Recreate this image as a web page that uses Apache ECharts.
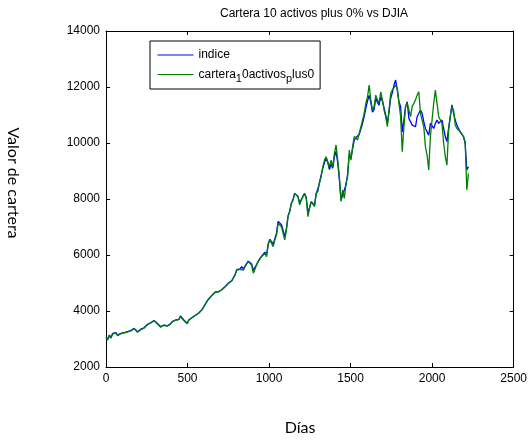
<!DOCTYPE html>
<html>
<head>
<meta charset="utf-8">
<script src="https://cdn.jsdelivr.net/npm/echarts@6/dist/echarts.min.js"></script>
<style>
html, body { margin: 0; padding: 0; background: #fff; }
#chart { width: 530px; height: 441px; }
</style>
</head>
<body>
<div id="chart"></div>
<script>
// Separación (en días) entre muestras consecutivas de cada serie
const pasoDias = 10.15;

// Índice DJIA (muestreado)
const indice = [
  3080, 2990, 3140, 3060, 3200, 3170, 3230, 3140, 3180, 3200,
  3260, 3230, 3300, 3260, 3320, 3300, 3360, 3380, 3320, 3260,
  3300, 3350, 3320, 3400, 3470, 3520, 3560, 3580, 3620, 3660,
  3610, 3560, 3540, 3440, 3420, 3500, 3540, 3470, 3500, 3540,
  3620, 3660, 3680, 3740, 3700, 3820, 3770, 3680, 3620, 3560,
  3680, 3740, 3770, 3800, 3850, 3880, 3930, 3960, 4050, 4150,
  4250, 4350, 4430, 4500, 4560, 4620, 4680, 4720, 4690, 4740,
  4770, 4830, 4880, 4920, 5000, 5060,
  5080, 5060, 5300, 5480, 5540, 5500, 5580, 5500, 5600, 5700,
  5780, 5750, 5680, 5450, 5480, 5660, 5780, 5720, 5960, 6020,
  6100, 6000, 6400, 6560, 6480, 6380, 6580, 6780, 7200, 7250,
  7080, 6880, 6650, 6950, 7400, 7560, 7850, 7980, 8200, 8250,
  8100, 7850, 7980, 8100, 8200, 8050, 7500, 7700, 7900, 7880,
  7780, 8200, 8280,
  8600, 8850, 9100, 9300, 9450, 9300, 9050, 9250, 9100, 9500,
  9700, 9300, 8700, 7950, 8150, 8100, 8500, 8900, 9600, 9450,
  9800, 10100, 10200, 10150, 10300, 10500, 10700, 10950, 11250, 11500,
  11700, 11450, 11100, 11200, 11600, 11450, 11350, 11650, 11500, 11250,
  11000, 10700, 11100, 11600, 11800,
  12070, 12250, 11890, 11475, 11297, 10400, 10820, 11297, 11475, 10880,
  10820, 10640, 10700, 10580, 10940, 11000, 11180, 11060, 10760, 10520,
  10580, 10280, 10700, 10640, 10520, 10700, 10820, 10700, 10640, 10820,
  10760, 10230, 10050, 10520, 10940, 11360, 11060, 10820, 10640, 10520,
  10400, 10340, 10230, 9990, 9036, 9150
];

// Cartera de 10 activos (muestreada)
const cartera = [
  3040, 2960, 3110, 3030, 3170, 3140, 3210, 3120, 3170, 3190,
  3250, 3220, 3290, 3250, 3310, 3290, 3350, 3370, 3300, 3240,
  3290, 3330, 3310, 3390, 3460, 3510, 3550, 3570, 3610, 3650,
  3600, 3540, 3520, 3420, 3400, 3490, 3530, 3460, 3490, 3530,
  3610, 3650, 3670, 3730, 3690, 3800, 3750, 3660, 3600, 3540,
  3670, 3730, 3760, 3790, 3840, 3870, 3920, 3950, 4040, 4140,
  4240, 4330, 4420, 4490, 4550, 4600, 4670, 4700, 4680, 4730,
  4760, 4820, 4860, 4910, 4990, 5050,
  5080, 5050, 5290, 5460, 5520, 5490, 5560, 5460, 5580, 5680,
  5760, 5730, 5640, 5350, 5410, 5640, 5760, 5700, 5940, 6000,
  6060, 5940, 6360, 6540, 6420, 6300, 6540, 6710, 7130, 7190,
  7010, 6770, 6540, 6890, 7370, 7550, 7840, 7960, 8200, 8260,
  8080, 7790, 7960, 8080, 8200, 8020, 7370, 7670, 7900, 7840,
  7730, 8200, 8260,
  8560, 8800, 9150, 9390, 9510, 9330, 9150, 9390, 9150, 9630,
  9930, 9390, 8800, 7910, 8320, 8020, 8560, 8800, 9750, 9390,
  9870, 10230, 10290, 10110, 10350, 10580, 10820, 11060, 11420, 11650,
  12070, 11540, 11180, 11300, 11710, 11540, 11420, 11830, 11540, 11180,
  10940, 10580, 11180, 11770, 11890,
  11890, 12070, 11950, 11420, 10940, 9690, 10580, 11300, 11420, 11180,
  10940, 11300, 11420, 11540, 11710, 11830, 11060, 10820, 10580, 9870,
  9570, 9036, 10230, 10820, 11420, 11890, 11950, 10940, 10820, 10700,
  9990, 9510, 9210, 10460, 10940, 11300, 11180, 10640, 10520, 10460,
  10400, 10460, 10230, 10050, 8320, 8917
];

const ticksX = { min: 0, max: 2500, interval: 500 };
const ticksY = { min: 2000, max: 14000, interval: 2000 };

const titulo = 'Cartera 10 activos plus 0% vs DJIA';
const etiquetaX = 'Días';
const etiquetaY = 'Valor de cartera';
const nombreIndice = 'indice';
const nombreCartera = 'cartera_10activos_plus0';

const fuente = 'Liberation Sans, Arial, sans-serif';

const aPuntos = arr => arr.map((v, i) => [i * pasoDias, v]);

const eje = (rango, pos, labels) => ({
  type: 'value', position: pos, min: rango.min, max: rango.max, interval: rango.interval,
  axisLine: { show: true, onZero: false, lineStyle: { color: '#000', width: 1 } },
  axisTick: { show: true, inside: true, length: 4, lineStyle: { color: '#000' } },
  axisLabel: {
    show: labels, color: '#000', fontFamily: fuente, fontSize: 12, margin: 6,
    formatter: v => String(v)
  },
  splitLine: { show: false }
});

const chart = echarts.init(document.getElementById('chart'), null, { renderer: 'canvas' });
chart.setOption({
  animation: false,
  backgroundColor: '#fff',
  title: {
    text: titulo, left: 309, top: 3, textAlign: 'center',
    textStyle: { fontFamily: fuente, fontSize: 12, fontWeight: 'normal', color: '#000' }
  },
  grid: { left: 106, right: 14, top: 31, bottom: 74, containLabel: false },
  xAxis: [eje(ticksX, 'bottom', true), eje(ticksX, 'top', false)],
  yAxis: [eje(ticksY, 'left', true), eje(ticksY, 'right', false)],
  legend: {
    orient: 'vertical', left: 150, top: 41,
    itemWidth: 36, itemHeight: 14, itemGap: 4,
    padding: [8, 6, 5, 7],
    borderColor: '#000', borderWidth: 1, backgroundColor: '#fff',
    itemStyle: { opacity: 0, borderWidth: 0 },
    lineStyle: { width: 1 },
    data: [nombreIndice, nombreCartera],
    textStyle: {
      fontFamily: fuente, fontSize: 12, color: '#000',
      rich: {
        n: { fontFamily: fuente, fontSize: 12, color: '#000', lineHeight: 14 },
        s: { fontFamily: fuente, fontSize: 11, color: '#000', lineHeight: 14, padding: [8, 0, 0, 0] }
      }
    },
    formatter: name => name === nombreCartera
      ? '{n|cartera}{s|1}{n|0activos}{s|p}{n|lus0}'
      : name
  },
  graphic: [
    { type: 'text', x: 300, y: 428, style: { text: etiquetaX, fontFamily: 'Lato, sans-serif', fontSize: 16, fill: '#000', align: 'center', verticalAlign: 'middle' } },
    { type: 'text', x: 13, y: 183, rotation: -Math.PI / 2, style: { text: etiquetaY, fontFamily: 'Lato, sans-serif', fontSize: 16, fill: '#000', align: 'center', verticalAlign: 'middle' } }
  ],
  series: [
    {
      name: nombreIndice, type: 'line', xAxisIndex: 0, yAxisIndex: 0,
      data: aPuntos(indice), symbol: 'none', showSymbol: false,
      lineStyle: { color: '#0000ff', width: 1.3 }, itemStyle: { color: '#0000ff' }
    },
    {
      name: nombreCartera, type: 'line', xAxisIndex: 0, yAxisIndex: 0,
      data: aPuntos(cartera), symbol: 'none', showSymbol: false,
      lineStyle: { color: '#008000', width: 1.3 }, itemStyle: { color: '#008000' }
    }
  ]
});
</script>
</body>
</html>
